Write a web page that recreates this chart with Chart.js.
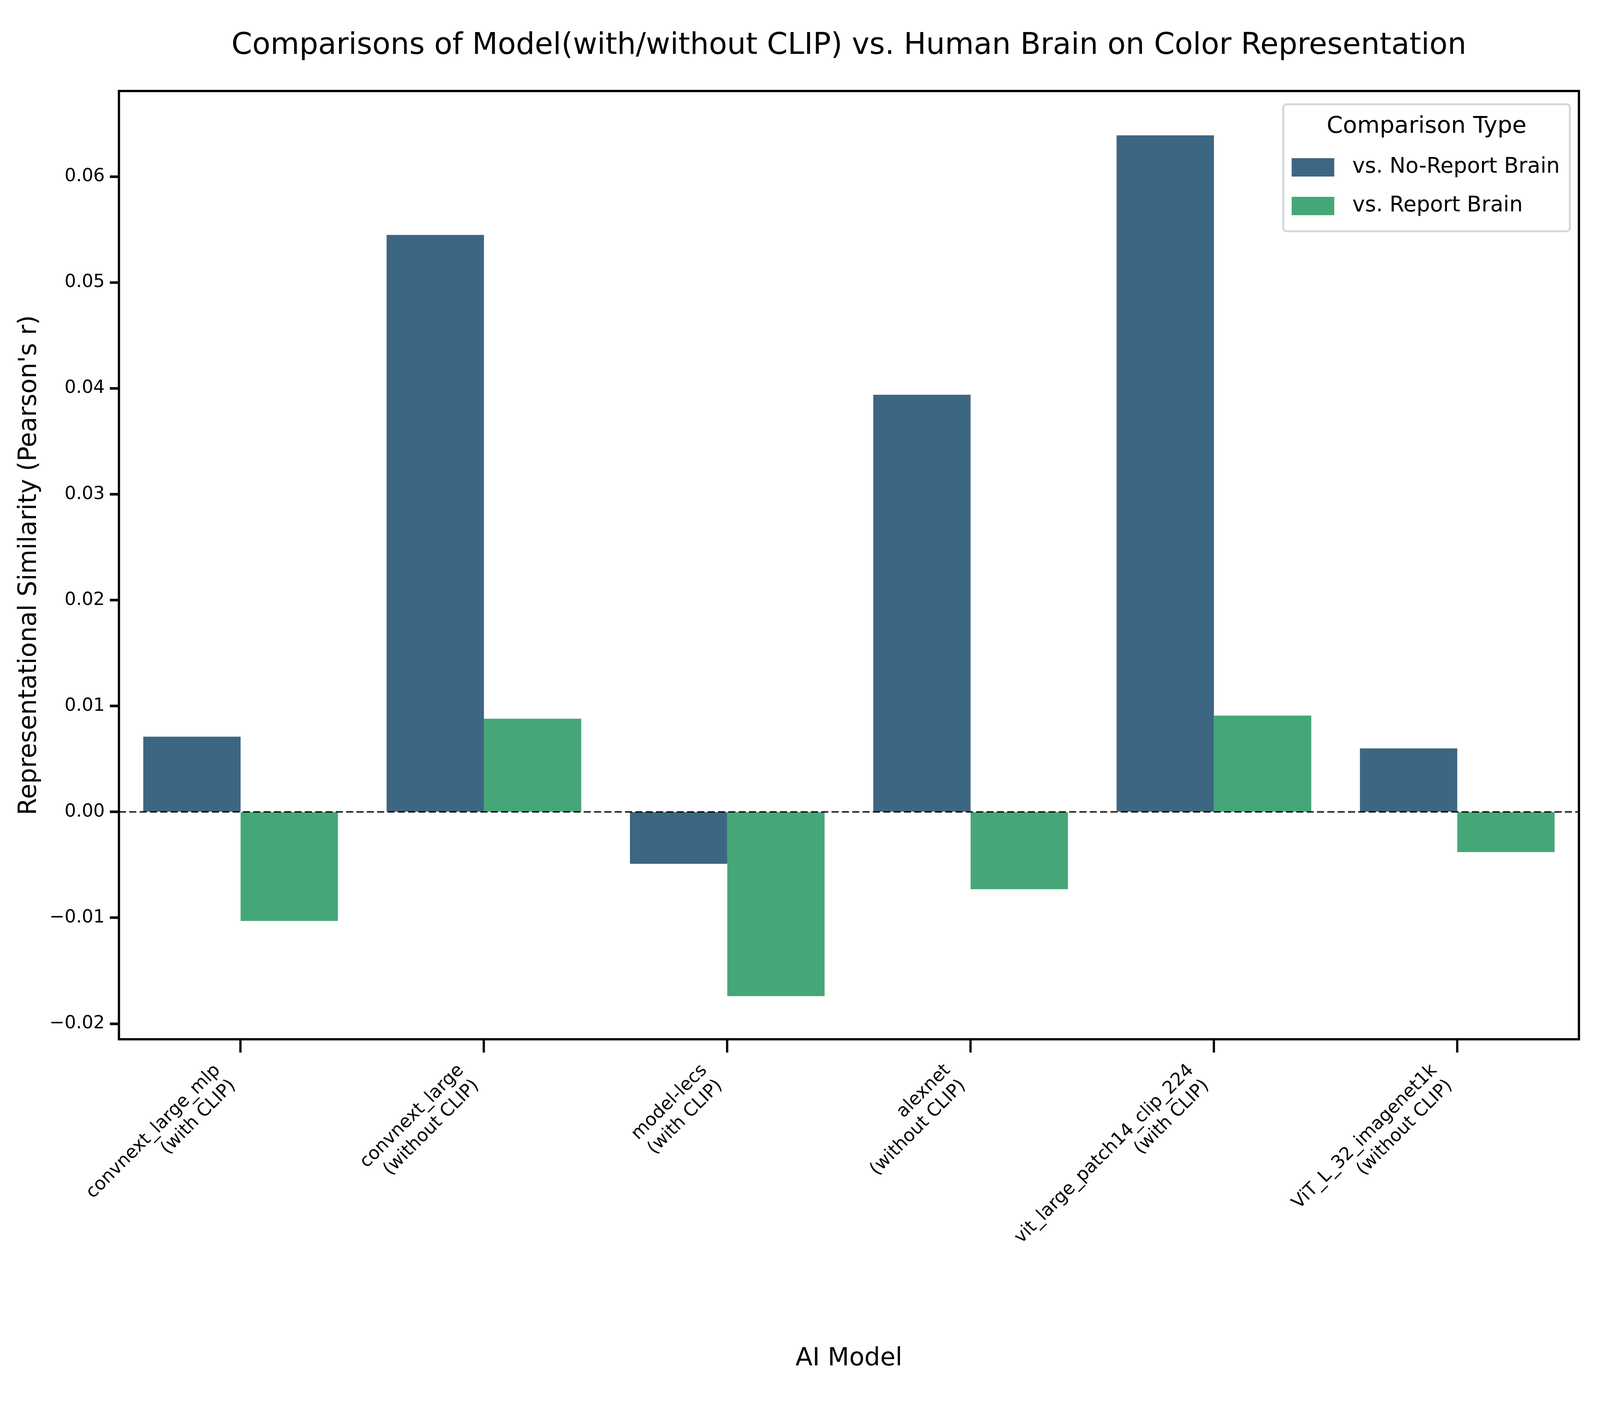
<!DOCTYPE html>
<html lang="en">
<head>
    <meta charset="UTF-8">
    <title>Model vs Human Brain - Color Representation</title>
    <script src="https://cdn.jsdelivr.net/npm/chart.js@4.4.1/dist/chart.umd.min.js"></script>
    <style>
        html, body { margin: 0; padding: 0; background: #fff; overflow: hidden; }
        #wrap { position: relative; width: 100vw; height: 100vh; }
    </style>
</head>
<body>
<div id="wrap">
    <canvas id="chart"></canvas>
</div>

<script>
    // data
    const models = [
        ['convnext_large_mlp', '(with CLIP)'],
        ['convnext_large', '(without CLIP)'],
        ['model-lecs', '(with CLIP)'],
        ['alexnet', '(without CLIP)'],
        ['vit_large_patch14_clip_224', '(with CLIP)'],
        ['ViT_L_32_imagenet1k', '(without CLIP)']
    ];
    const noReportBrain = [0.0071, 0.0545, -0.0049, 0.0394, 0.0639, 0.0060];
    const reportBrain = [-0.0103, 0.0088, -0.0174, -0.0073, 0.0091, -0.0038];
    const seriesNames = ['vs. No-Report Brain', 'vs. Report Brain'];
    const yTickValues = [-0.02, -0.01, 0.00, 0.01, 0.02, 0.03, 0.04, 0.05, 0.06];
    const yTickLabels = ['\u22120.02', '\u22120.01', '0.00', '0.01', '0.02', '0.03', '0.04', '0.05', '0.06'];

    const FONT = 'DejaVu Sans';
    const colors = ['#3d6682', '#45a778'];

    // layout numbers are on a 6000 x 3600 grid, stretched to whatever the window is
    const SX = window.innerWidth / 6000;
    const SY = window.innerHeight / 3600;
    const SF = Math.sqrt(SX * SY);   // fonts and line widths
    const sx = v => v * SX, sy = v => v * SY, sf = v => v * SF;

    // black frame around the axes + dashed zero line
    const framePlugin = {
        id: 'frame',
        afterDatasetsDraw(chart) {
            const {ctx, chartArea: a, scales: {y}} = chart;
            const y0 = y.getPixelForValue(0);
            ctx.save();
            ctx.strokeStyle = '#000';
            ctx.lineWidth = sf(4);
            ctx.setLineDash([sf(22), sf(10)]);
            ctx.beginPath();
            ctx.moveTo(a.left, y0);
            ctx.lineTo(a.right, y0);
            ctx.stroke();
            ctx.setLineDash([]);
            ctx.lineWidth = sf(7);
            ctx.strokeRect(a.left, a.top, a.right - a.left, a.bottom - a.top);
            ctx.restore();
        }
    };

    // matplotlib style legend box in the upper right corner
    const legendPlugin = {
        id: 'boxLegend',
        afterDraw(chart) {
            const {ctx, chartArea: a} = chart;
            const boxW = sf(888), boxH = sy(325);
            const x = a.right - sx(34) - boxW, y = a.top + sy(34);
            ctx.save();
            ctx.fillStyle = 'rgba(255,255,255,0.8)';
            ctx.strokeStyle = '#d6d6d6';
            ctx.lineWidth = sf(6);
            ctx.beginPath();
            ctx.roundRect(x, y, boxW, boxH, sf(10));
            ctx.fill();
            ctx.stroke();

            ctx.fillStyle = '#000';
            ctx.textBaseline = 'middle';
            ctx.textAlign = 'center';
            ctx.font = sf(72) + 'px "' + FONT + '"';
            ctx.fillText('Comparison Type', x + boxW / 2, y + sy(58));

            ctx.textAlign = 'left';
            ctx.font = sf(66) + 'px "' + FONT + '"';
            chart.data.datasets.forEach((ds, i) => {
                const cy = y + sy(161 + i * 99);
                ctx.fillStyle = ds.backgroundColor;
                ctx.fillRect(x + sf(26), cy - sy(23), sf(132), sy(47));
                ctx.fillStyle = '#000';
                ctx.fillText(ds.label, x + sf(214), cy);
            });
            ctx.restore();
        }
    };

    const tickFont = sf(56);

    new Chart(document.getElementById('chart'), {
        type: 'bar',
        data: {
            labels: models,
            datasets: [
                { label: seriesNames[0], data: noReportBrain, backgroundColor: colors[0] },
                { label: seriesNames[1], data: reportBrain, backgroundColor: colors[1] }
            ]
        },
        options: {
            responsive: true,
            maintainAspectRatio: false,
            animation: false,
            layout: { padding: { left: 0, right: sx(79), top: 0, bottom: 0 } },
            datasets: {
                bar: { categoryPercentage: 0.8, barPercentage: 1.0, borderWidth: 0 }
            },
            plugins: {
                legend: { display: false },
                tooltip: { enabled: false },
                title: {
                    display: true,
                    fullSize: false,
                    text: 'Comparisons of Model(with/without CLIP) vs. Human Brain on Color Representation',
                    color: '#000',
                    font: { family: FONT, size: sf(92), weight: 'normal', lineHeight: 1.2 },
                    padding: { top: sy(118) - sf(92) * 0.6, bottom: sy(233) - sy(118) - sf(92) * 0.6 }
                }
            },
            scales: {
                x: {
                    offset: true,
                    grid: {
                        offset: false,
                        drawOnChartArea: false,
                        drawTicks: true,
                        tickLength: sy(34),
                        tickWidth: sf(7),
                        tickColor: '#000'
                    },
                    border: { display: false },
                    ticks: {
                        autoSkip: false,
                        minRotation: 45,
                        maxRotation: 45,
                        padding: sy(19),
                        labelOffset: -1.06 * tickFont * 1.2,
                        color: '#000',
                        font: { family: FONT, size: tickFont, lineHeight: 1.2 }
                    },
                    title: {
                        display: true,
                        text: 'AI Model',
                        color: '#000',
                        font: { family: FONT, size: sf(77), lineHeight: 1.2 },
                        padding: { top: 0, bottom: sy(3600 - 3479) - sf(77) * 0.6 }
                    },
                    afterFit(scale) { scale.height = sy(939); }
                },
                y: {
                    min: -0.021475,
                    max: 0.06809,
                    grid: {
                        drawOnChartArea: false,
                        drawTicks: true,
                        tickLength: sx(34),
                        tickWidth: sf(8),
                        tickColor: '#000'
                    },
                    border: { display: false },
                    ticks: {
                        padding: sx(19),
                        color: '#000',
                        font: { family: FONT, size: tickFont },
                        callback: (v, i) => yTickLabels[i]
                    },
                    afterBuildTicks(scale) {
                        scale.ticks = yTickValues.map(v => ({ value: v }));
                    },
                    title: {
                        display: true,
                        text: "Representational Similarity (Pearson's r)",
                        color: '#000',
                        font: { family: FONT, size: sf(77), lineHeight: 1.2 },
                        padding: { top: sx(111) - sf(77) * 0.6, bottom: 0 }
                    },
                    afterFit(scale) { scale.width = sx(446); }
                }
            }
        },
        plugins: [framePlugin, legendPlugin]
    });
</script>
</body>
</html>
